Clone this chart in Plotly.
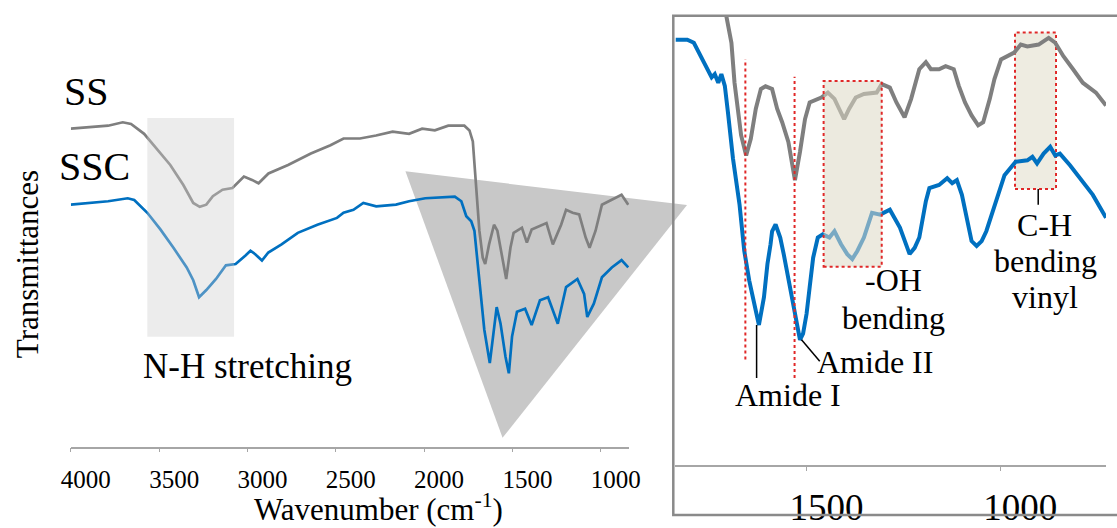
import plotly.graph_objects as go

# ---------------- data ----------------
# Left panel: full spectra
ss_wn = [4000, 3789, 3706, 3659, 3585, 3530, 3437, 3363, 3307, 3270, 3233, 3196, 3141, 3085, 3020, 2974, 2937, 2881, 2770, 2641,
         2530, 2456, 2363, 2272, 2178, 2085, 2011, 1939, 1863, 1772, 1743, 1724, 1706, 1687, 1668, 1654, 1632, 1604, 1585, 1557,
         1535, 1511, 1493, 1446, 1418, 1391, 1344, 1307, 1271, 1224, 1196, 1159, 1122, 1085, 1063, 1029, 993, 937, 882, 844]
ss_t = [74.5, 75.2, 76.0, 75.6, 73.3, 70.6, 66.0, 61.3, 57.1, 56.2, 56.7, 58.7, 60.2, 60.6, 63.3, 62.5, 61.7, 64.0, 66.0, 68.7,
        70.6, 72.2, 72.2, 72.9, 73.8, 73.3, 74.5, 74.1, 75.2, 75.2, 74.1, 71.5, 62.2, 50.6, 44.3, 42.8, 47.4, 52.0, 50.6, 44.3,
        39.3, 46.6, 50.1, 51.3, 47.8, 50.9, 51.7, 52.4, 47.4, 52.0, 55.5, 54.8, 54.4, 49.0, 46.6, 50.6, 56.7, 57.8, 59.0, 56.7]

ssc_wn = [4000, 3789, 3678, 3641, 3567, 3493, 3419, 3344, 3307, 3274, 3233, 3178, 3122, 3067, 3011, 2983, 2956, 2918, 2882, 2807,
          2715, 2604, 2493, 2456, 2400, 2363, 2344, 2271, 2159, 2085, 1993, 1826, 1789, 1761, 1733, 1715, 1687, 1659, 1628, 1607,
          1589, 1567, 1539, 1520, 1502, 1474, 1428, 1391, 1344, 1298, 1243, 1196, 1132, 1094, 1076, 1039, 993, 937, 882, 844]
ssc_t = [56.7, 57.5, 58.2, 57.8, 54.8, 50.9, 46.6, 42.0, 39.0, 35.0, 36.7, 39.3, 42.5, 42.8, 44.8, 45.9, 45.1, 43.6, 45.5, 47.4,
         50.1, 52.0, 53.6, 54.8, 55.5, 56.7, 57.1, 56.3, 56.7, 57.5, 58.2, 58.6, 57.5, 54.0, 52.8, 50.6, 39.0, 27.4, 19.6, 27.4,
         32.7, 28.8, 21.1, 17.2, 25.8, 31.6, 32.3, 28.5, 34.3, 35.0, 28.8, 37.4, 39.3, 35.8, 30.4, 33.5, 39.7, 42.0, 43.7, 42.0]

# Right panel: zoomed fingerprint region
ss_in_wn = [1760, 1725, 1707, 1694, 1686, 1677, 1669, 1656, 1644, 1631, 1618, 1606, 1589, 1576, 1563, 1547, 1530, 1517, 1504, 1492,
            1462, 1445, 1428, 1416, 1403, 1390, 1373, 1352, 1319, 1306, 1285, 1268, 1247, 1230, 1209, 1192, 1179, 1158, 1141, 1120,
            1107, 1091, 1074, 1057, 1044, 1027, 1015, 998, 964, 947, 930, 901, 875, 858, 837, 812, 787, 753, 727]
ss_in_t = [118, 110, 99.9, 94.0, 85.1, 77.8, 73.4, 68.9, 72.6, 79.3, 83.7, 84.3, 83.7, 79.3, 76.3, 71.9, 63.4, 69.7, 77.0, 80.7,
           81.8, 82.9, 81.5, 79.3, 77.0, 79.3, 81.8, 82.6, 82.9, 84.8, 84.0, 80.7, 77.4, 81.5, 88.1, 89.7, 88.1, 88.1, 88.8, 88.1,
           84.4, 80.7, 77.8, 75.6, 76.3, 81.5, 85.9, 90.3, 91.8, 93.6, 93.2, 93.6, 95.1, 94.0, 91.0, 88.1, 85.1, 82.9, 80.0]

ssc_in_wn = [1838, 1808, 1791, 1775, 1758, 1745, 1737, 1728, 1720, 1711, 1703, 1690, 1673, 1661, 1648, 1635, 1623, 1610, 1601, 1593,
             1589, 1580, 1568, 1559, 1542, 1525, 1517, 1509, 1500, 1492, 1483, 1471, 1458, 1441, 1428, 1411, 1395, 1382, 1369, 1352,
             1331, 1310, 1285, 1259, 1243, 1234, 1221, 1209, 1192, 1183, 1158, 1137, 1124, 1112, 1099, 1086, 1074, 1061, 1048, 1036,
             1015, 989, 960, 930, 917, 905, 888, 871, 858, 846, 820, 795, 761, 727]
ssc_in_t = [94.7, 94.7, 94.0, 91.4, 88.8, 86.3, 87.0, 85.1, 87.0, 84.4, 78.5, 68.2, 57.9, 47.7, 41.0, 35.8, 31.1, 37.3, 44.7, 49.1,
            52.0, 53.5, 50.6, 46.9, 39.5, 32.2, 27.8, 29.2, 33.6, 39.5, 46.1, 50.6, 51.3, 50.6, 52.0, 49.1, 46.9, 45.8, 47.6, 50.6,
            56.1, 55.7, 56.8, 52.8, 49.1, 46.9, 48.3, 50.6, 58.7, 61.6, 62.3, 63.8, 62.7, 63.4, 60.1, 55.0, 49.8, 48.7, 49.8, 52.0,
            57.9, 64.5, 67.5, 67.8, 68.6, 67.1, 69.3, 70.8, 68.9, 69.3, 66.7, 63.8, 60.1, 55.0]

left_ticks = [4000, 3500, 3000, 2500, 2000, 1500, 1000]
right_ticks = [1500, 1000]

series_names = ["SS", "SSC"]

# highlighted regions (wavenumber ranges)
nh_region = (3567, 3076)
oh_region = (1456, 1306)
ch_region = (962, 856)
amide_lines = (1658, 1531)

# ---------------- layout helpers ----------------
W, H = 1117, 528
FONT = "Liberation Serif"
GRAY = "#7f7f7f"
BLUE = "#0070c0"


def px(x):
    return x / W


def py(y):
    return 1 - y / H


fig = go.Figure()

fig.add_trace(go.Scatter(x=ss_wn, y=ss_t, mode="lines", name=series_names[0],
                         line=dict(color=GRAY, width=2.7), xaxis="x", yaxis="y"))
fig.add_trace(go.Scatter(x=ssc_wn, y=ssc_t, mode="lines", name=series_names[1],
                         line=dict(color=BLUE, width=2.7), xaxis="x", yaxis="y"))
fig.add_trace(go.Scatter(x=ss_in_wn, y=ss_in_t, mode="lines", name=series_names[0],
                         line=dict(color=GRAY, width=4), xaxis="x2", yaxis="y2"))
fig.add_trace(go.Scatter(x=ssc_in_wn, y=ssc_in_t, mode="lines", name=series_names[1],
                         line=dict(color=BLUE, width=4), xaxis="x2", yaxis="y2"))

axis_common = dict(showgrid=False, zeroline=False, showline=True, linecolor="#a6a6a6", linewidth=1.5,
                   ticks="outside", tickcolor="#a6a6a6", tickwidth=1.2)

fig.update_layout(
    width=W, height=H,
    margin=dict(l=0, r=0, t=0, b=0),
    paper_bgcolor="white", plot_bgcolor="rgba(0,0,0,0)",
    showlegend=False,
    font=dict(family=FONT, color="black"),
    xaxis=dict(domain=[px(62), px(631)], range=[4000, 839], anchor="y",
               tickvals=left_ticks, ticklen=4,
               tickfont=dict(family=FONT, size=25, color="black"),
               ticklabelshift=-15, ticklabelstandoff=6, **axis_common),
    yaxis=dict(domain=[py(451), py(20)], range=[0, 100], visible=False, anchor="x"),
    xaxis2=dict(domain=[px(678), 1.0], range=[1839, 727], anchor="y2",
                tickvals=right_ticks, ticklen=5,
                tickfont=dict(family=FONT, size=37, color="black"),
                ticklabelshift=-20, ticklabelstandoff=4, **axis_common),
    yaxis2=dict(domain=[py(469), py(16)], range=[0, 100], visible=False, anchor="x2"),
)

shapes = []
# zoom triangle
shapes.append(dict(type="path", xref="paper", yref="paper", layer="below",
                   path=f"M {px(403)} {py(173)} L {px(690)} {py(207)} L {px(502)} {py(442)} Z",
                   fillcolor="#c8c8c8", line=dict(width=0)))
# inset frame
shapes.append(dict(type="rect", xref="paper", yref="paper", layer="above",
                   x0=px(676), x1=1.05, y0=py(520), y1=py(16),
                   line=dict(color="#8a8a8a", width=2.5), fillcolor="rgba(0,0,0,0)"))
# N-H region box
shapes.append(dict(type="rect", xref="x", yref="y", layer="above",
                   x0=nh_region[0], x1=nh_region[1], y0=25.75, y1=77.0,
                   fillcolor="rgba(205,205,205,0.38)", line=dict(width=0)))
# C-H vinyl box (behind lines)
shapes.append(dict(type="rect", xref="x2", yref="y2", layer="below",
                   x0=ch_region[0], x1=ch_region[1], y0=61.4, y1=96.3,
                   fillcolor="#eeece1", line=dict(color="#e02828", width=2, dash="dot")))
# -OH box (over lines)
shapes.append(dict(type="rect", xref="x2", yref="y2", layer="above",
                   x0=oh_region[0], x1=oh_region[1], y0=44.1, y1=85.5,
                   fillcolor="rgba(221,217,196,0.55)", line=dict(color="#e02828", width=2, dash="dot")))
# amide dotted markers
shapes.append(dict(type="line", xref="x2", yref="y2", layer="above",
                   x0=amide_lines[0], x1=amide_lines[0], y0=23.4, y1=90.3,
                   line=dict(color="#e02828", width=2, dash="dot")))
shapes.append(dict(type="line", xref="x2", yref="y2", layer="above",
                   x0=amide_lines[1], x1=amide_lines[1], y0=19.3, y1=86.4,
                   line=dict(color="#e02828", width=2, dash="dot")))
# leader lines
shapes.append(dict(type="line", xref="x2", yref="y2", x0=1629, x1=1629, y0=31.1, y1=19.3,
                   line=dict(color="black", width=1.5)))
shapes.append(dict(type="line", xref="x2", yref="y2", x0=1513, x1=1466, y0=27.8, y1=23.0,
                   line=dict(color="black", width=1.5)))
shapes.append(dict(type="line", xref="x2", yref="y2", x0=902, x1=902, y0=61.4, y1=57.9,
                   line=dict(color="black", width=1.5)))
fig.update_layout(shapes=shapes)


def label(text, x, y, size, angle=0):
    return dict(text=text, x=px(x), y=py(y), xref="paper", yref="paper", xanchor="center", yanchor="middle",
                showarrow=False, textangle=angle, font=dict(family=FONT, size=size, color="black"))


annotations = [
    label(series_names[0], 78, 92, 40),
    label(series_names[1], 86, 168, 40),
    label("N-H stretching", 242, 370, 35),
    label("Transmittances", 18, 267, 31, -90),
    label("Wavenumber (cm<sup>-1</sup>)", 376, 512, 31),
    label("-OH", 900, 283, 32),
    label("bending", 900, 321, 32),
    label("Amide II", 882, 365, 32),
    label("Amide I", 793, 399, 32),
    label("C-H", 1054, 227, 32),
    label("bending", 1055, 263, 32),
    label("vinyl", 1055, 300, 32),
]
fig.update_layout(annotations=annotations)

fig.write_html("out.html")
